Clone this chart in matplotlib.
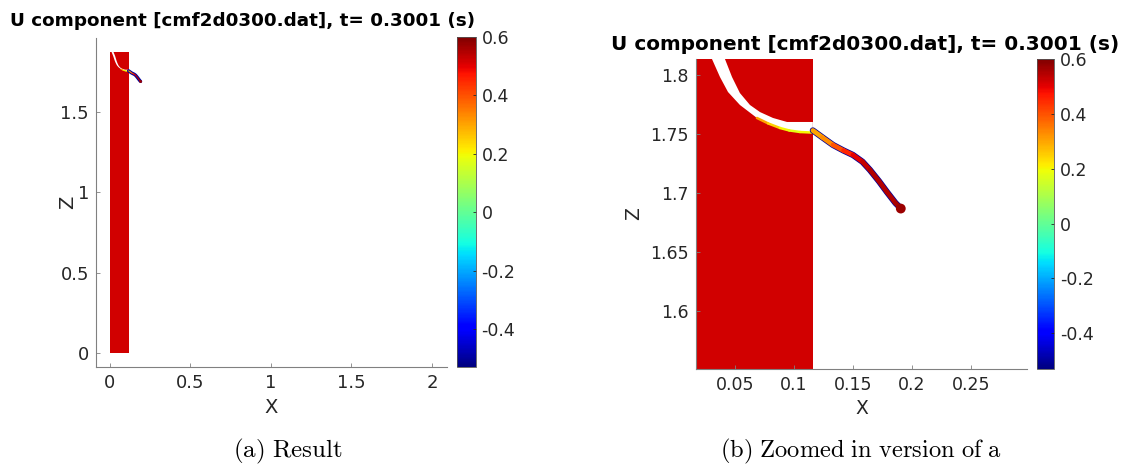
import matplotlib
matplotlib.use("Agg")
import matplotlib.pyplot as plt
from matplotlib.collections import LineCollection
from matplotlib.patches import Rectangle, Polygon
from matplotlib.colors import Normalize
from matplotlib.cm import ScalarMappable
import numpy as np

plt.rcParams['axes.unicode_minus'] = False
plt.rcParams['mathtext.fontset'] = 'cm'

# поле U: значения и геометрия
u_min, u_max = -0.53, 0.6
cbar_ticks = [-0.4, -0.2, 0, 0.2, 0.4, 0.6]

block_x = [0.0, 0.116]
block_z = [0.0, 1.87]
block_u = 0.52

# белый канал внутри блока (нижняя и верхняя граница)
band_low_x = [0.010, 0.020, 0.0305, 0.0373, 0.0441, 0.0542, 0.0686, 0.0881, 0.1051, 0.1160]
band_low_z = [1.870, 1.845, 1.8136, 1.7983, 1.7856, 1.7746, 1.7636, 1.7551, 1.7517, 1.7508]
band_up_x = [0.022, 0.032, 0.0415, 0.0475, 0.0542, 0.0627, 0.0712, 0.0822, 0.0941, 0.1160]
band_up_z = [1.870, 1.845, 1.8136, 1.7983, 1.7847, 1.7746, 1.7686, 1.7636, 1.7602, 1.7602]

# жёлто-оранжевая кромка по низу канала
edge_x = [0.0686, 0.0780, 0.0881, 0.0960, 0.1051, 0.1160]
edge_z = [1.7636, 1.7590, 1.7551, 1.7530, 1.7517, 1.7512]
edge_u = [0.3, 0.25, 0.2, 0.18, 0.2, 0.3]

# струя
jet_x = [0.1160, 0.1240, 0.1331, 0.1420, 0.1500, 0.1580, 0.1644, 0.1720, 0.1788, 0.1860, 0.1900]
jet_z = [1.7530, 1.7472, 1.7407, 1.7360, 1.7322, 1.7265, 1.7195, 1.7100, 1.7008, 1.6915, 1.6875]
jet_u = [0.3, 0.33, 0.4, 0.45, 0.5, 0.53, 0.55, 0.55, 0.55, 0.56, 0.57]
blob_x, blob_z, blob_u = 0.1905, 1.6868, 0.57

title = "U component [cmf2d0300.dat], t= 0.3001 (s)"

cmap = plt.get_cmap('jet')
norm = Normalize(u_min, u_max)
gray = '#262626'


def segments(x, z):
    pts = np.column_stack([x, z]).reshape(-1, 1, 2)
    return np.concatenate([pts[:-1], pts[1:]], axis=1)


def draw_field(ax, outline_w, core_w, edge_w, blob_s):
    ax.add_patch(Rectangle((block_x[0], block_z[0]), block_x[1] - block_x[0],
                           block_z[1] - block_z[0], facecolor=cmap(norm(block_u)),
                           edgecolor='none'))
    band = list(zip(band_up_x, band_up_z)) + list(zip(band_low_x, band_low_z))[::-1]
    ax.add_patch(Polygon(band, closed=True, facecolor='white', edgecolor='none'))
    lc = LineCollection(segments(edge_x, edge_z), cmap=cmap, norm=norm,
                        linewidths=edge_w, capstyle='round')
    lc.set_array(np.array(edge_u[:-1]))
    ax.add_collection(lc)
    ax.plot(jet_x, jet_z, color=cmap(norm(-0.5)), lw=outline_w,
            solid_capstyle='round', solid_joinstyle='round')
    lc = LineCollection(segments(jet_x, jet_z), cmap=cmap, norm=norm,
                        linewidths=core_w, capstyle='round', joinstyle='round')
    lc.set_array(np.array(jet_u[:-1]))
    ax.add_collection(lc)
    ax.scatter([blob_x], [blob_z], c=[blob_u], cmap=cmap, norm=norm,
               s=blob_s, marker='o', edgecolors='none', zorder=5)


def style_axes(ax, size):
    for s in ['top', 'right']:
        ax.spines[s].set_visible(False)
    for s in ['left', 'bottom']:
        ax.spines[s].set_color('#808080')
        ax.spines[s].set_linewidth(0.8)
    ax.tick_params(direction='in', length=3, width=0.6, color='#808080',
                   labelcolor=gray, labelsize=size, pad=5)
    ax.set_xlabel('X', fontsize=size + 1, color=gray, labelpad=4)
    ax.set_ylabel('Z', fontsize=size + 1, color=gray)


def style_cbar(cax):
    cb = fig.colorbar(ScalarMappable(norm=norm, cmap=cmap), cax=cax,
                      ticks=cbar_ticks)
    cb.ax.set_yticklabels([f"{t:g}" for t in cbar_ticks])
    cb.ax.tick_params(direction='in', length=2, width=0.6, color=gray,
                      labelcolor=gray, labelsize=12.5, pad=4)
    cb.outline.set_edgecolor('#555555')
    cb.outline.set_linewidth(0.6)


fig = plt.figure(figsize=(11.21, 4.67), dpi=100)

# (a) весь расчёт
ax1 = fig.add_axes([0.0856, 0.2141, 0.3131, 0.7045])
draw_field(ax1, 2.4, 0.8, 0.8, 4)
ax1.set_xlim(-0.087, 2.093)
ax1.set_ylim(-0.087, 1.957)
ax1.set_xticks([0, 0.5, 1, 1.5, 2])
ax1.set_xticklabels(['0', '0.5', '1', '1.5', '2'])
ax1.set_yticks([0, 0.5, 1, 1.5])
ax1.set_yticklabels(['0', '0.5', '1', '1.5'])
style_axes(ax1, 13)
ax1.yaxis.set_label_coords(-0.055, 0.5)
cax1 = fig.add_axes([0.4077, 0.2141, 0.0169, 0.7066])
style_cbar(cax1)
fig.text(0.0089, 0.955, title, fontsize=13.2, fontweight='bold', va='center')

# (b) увеличенный фрагмент
ax2 = fig.add_axes([0.6209, 0.2099, 0.2953, 0.6638])
draw_field(ax2, 4.5, 3.4, 1.8, 50)
ax2.set_xlim(0.017, 0.2975)
ax2.set_ylim(1.5508, 1.8136)
ax2.set_xticks([0.05, 0.1, 0.15, 0.2, 0.25])
ax2.set_xticklabels(['0.05', '0.1', '0.15', '0.2', '0.25'])
ax2.set_yticks([1.6, 1.65, 1.7, 1.75, 1.8])
ax2.set_yticklabels(['1.6', '1.65', '1.7', '1.75', '1.8'])
style_axes(ax2, 12.5)
ax2.yaxis.set_label_coords(-0.16, 0.5)
cax2 = fig.add_axes([0.9251, 0.2099, 0.0152, 0.6638])
style_cbar(cax2)
fig.text(0.545, 0.905, title, fontsize=14.4, fontweight='bold', va='center')

fig.text(0.2565, 0.034, r'$\mathrm{(a)\ Result}$', fontsize=18,
         ha='center', va='center')
fig.text(0.768, 0.034, r'$\mathrm{(b)\ Zoomed\ in\ version\ of\ a}$',
         fontsize=17.6, ha='center', va='center')

fig.savefig('out.png', dpi=100)
